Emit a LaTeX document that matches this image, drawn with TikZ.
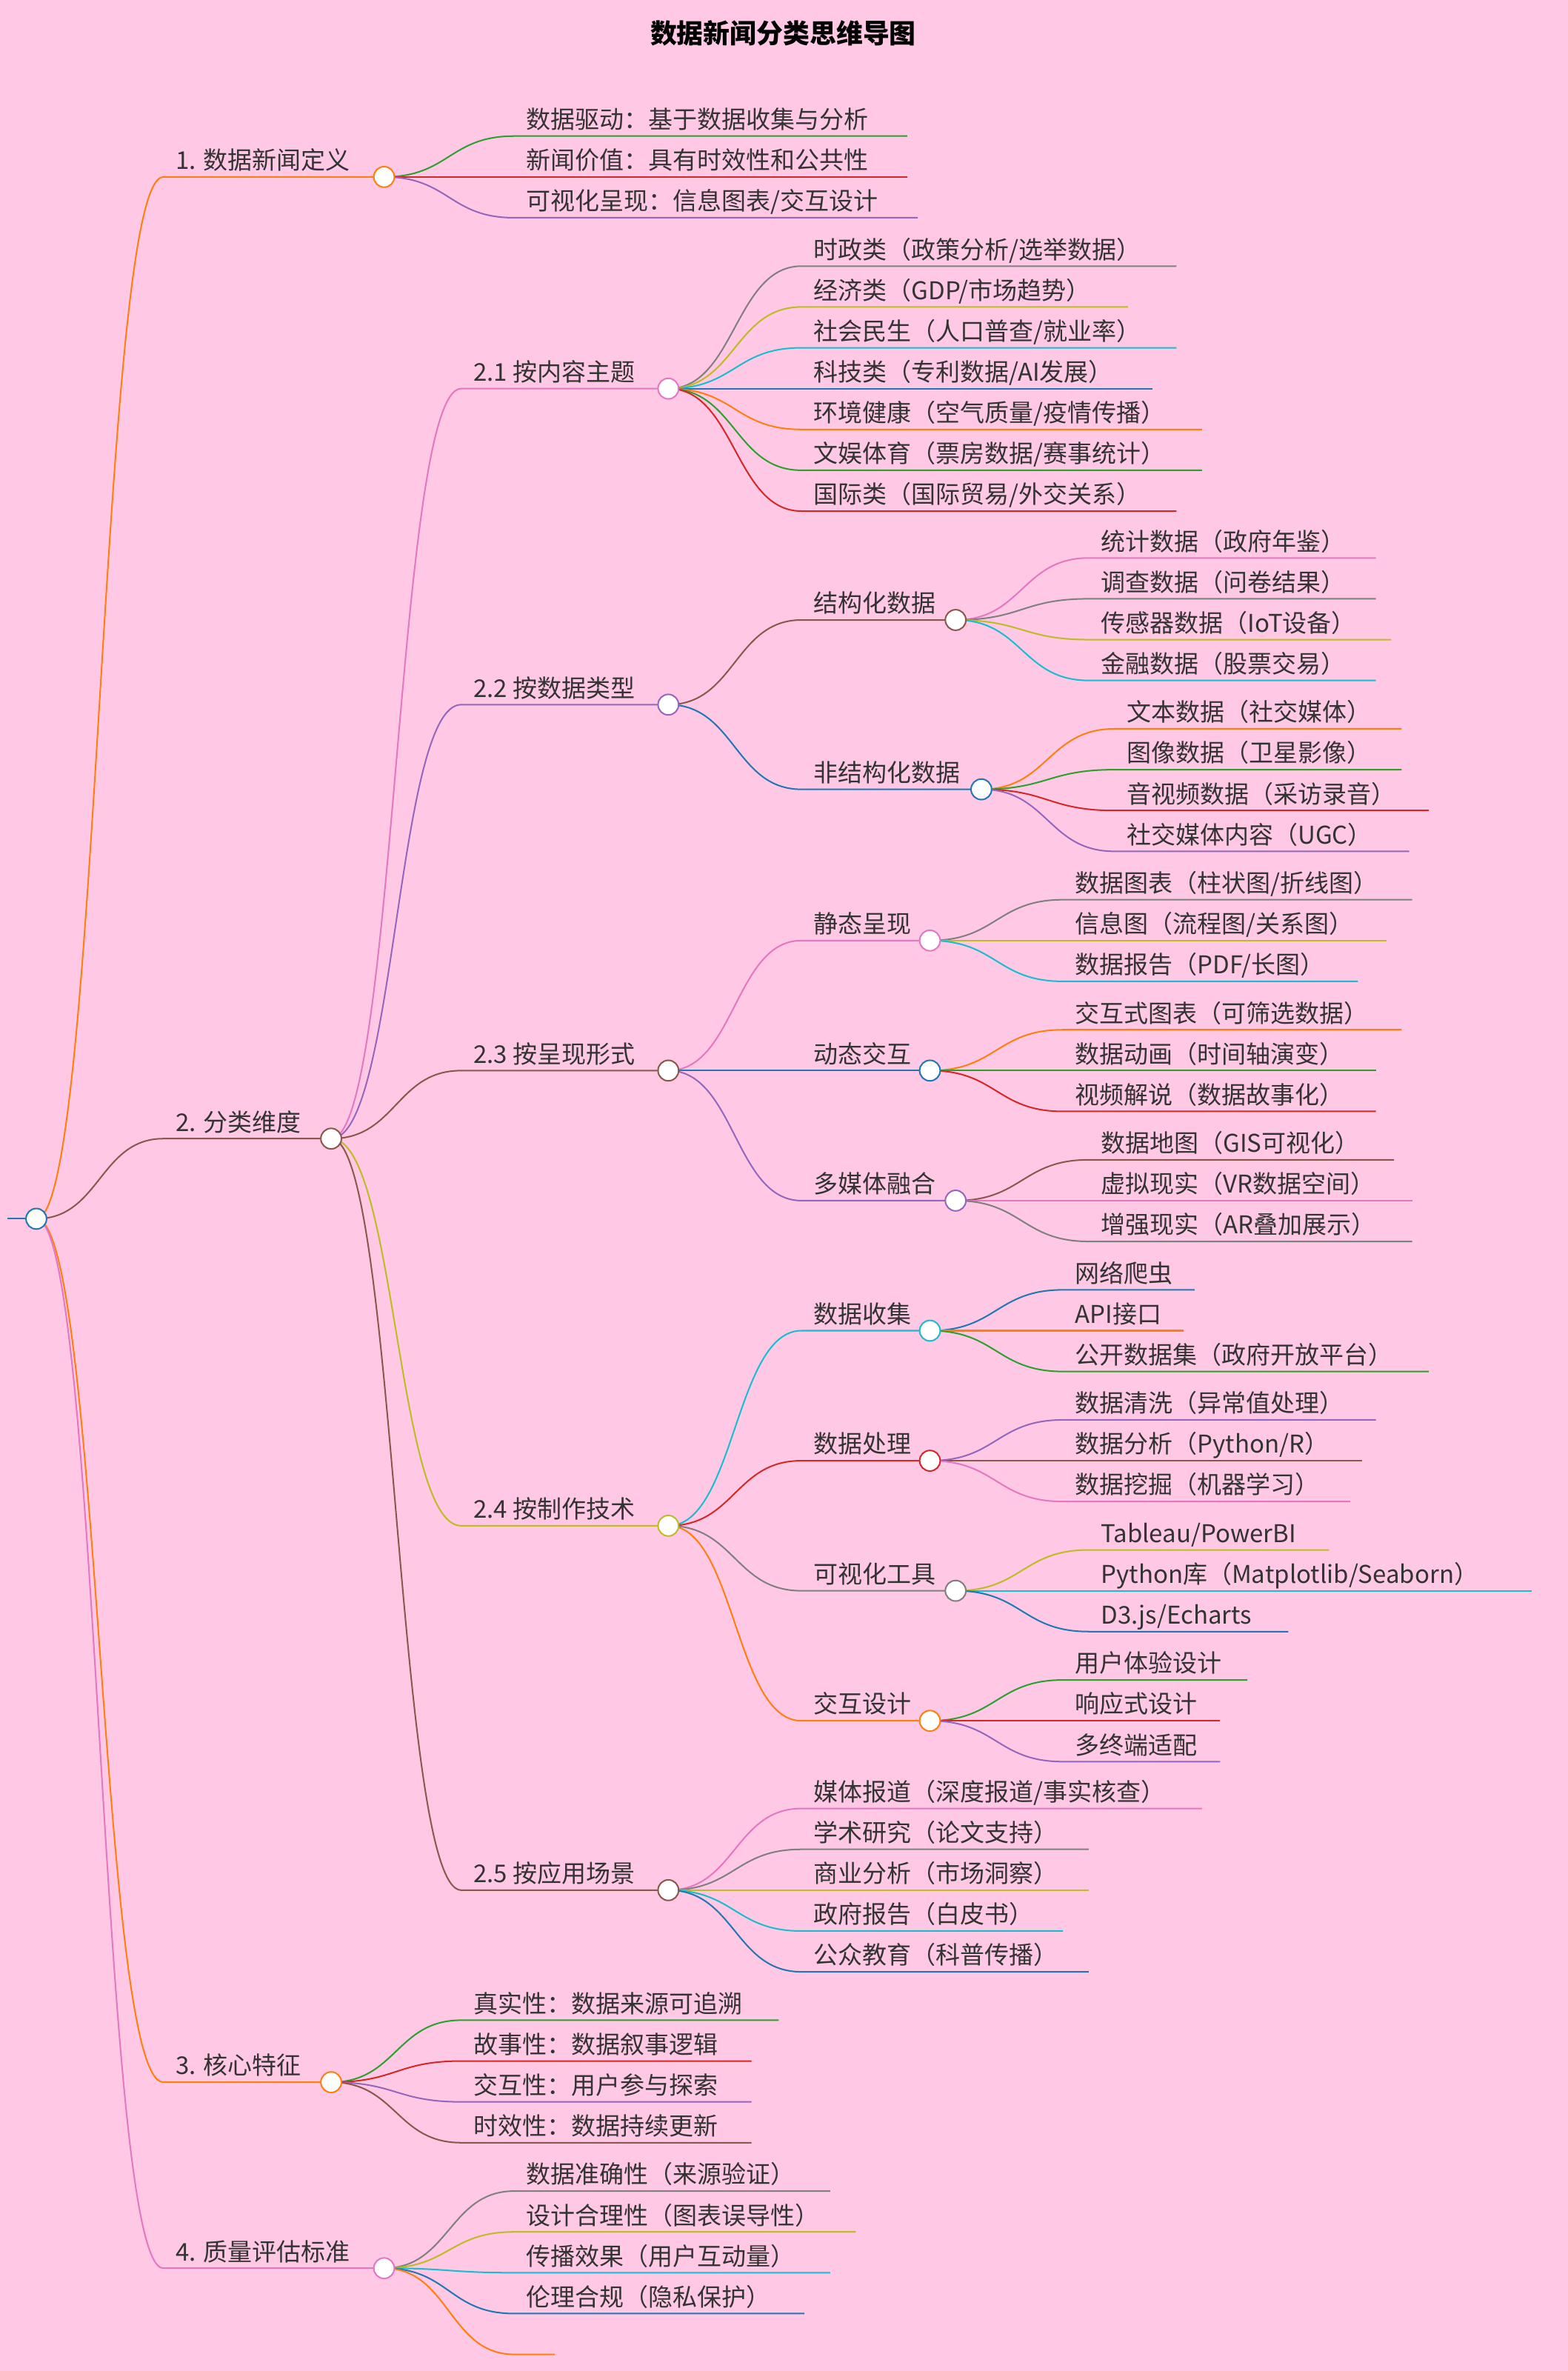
\documentclass[tikz,border=0pt]{standalone}
\usepackage{fontspec}
\setmainfont{Noto Sans CJK SC}
\definecolor{bg}{HTML}{FFC8E4}
\definecolor{txt}{HTML}{333333}
\definecolor{cblue}{HTML}{1F77B4}
\definecolor{corange}{HTML}{FF7F0E}
\definecolor{cgreen}{HTML}{2CA02C}
\definecolor{cred}{HTML}{D62728}
\definecolor{cpurple}{HTML}{9467BD}
\definecolor{cbrown}{HTML}{8C564B}
\definecolor{cpink}{HTML}{E377C2}
\definecolor{cgray}{HTML}{7F7F7F}
\definecolor{colive}{HTML}{BCBD22}
\definecolor{ccyan}{HTML}{17BECF}
\newcommand\mm[8]{%
 \draw[#6,line width=1.4pt] (#1,#2) .. controls ({(#1+#3)/2},#2) and ({(#1+#3)/2},#4) .. (#3,#4) -- (#5,#4);
 \node[anchor=base west,text=txt,inner sep=0] (#8) at ({#3+8},{#4-5}) {#7};}
\newcommand\mmc[4]{\node[circle,draw=#3,fill=white,line width=1.4pt,inner sep=0,minimum size=0.68cm] (#4) at (#1,#2) {};}
\begin{document}
\begin{tikzpicture}[x=0.05cm,y=-0.05cm,font=\fontsize{23}{27}\selectfont]
\fill[bg] (0,0) rectangle (1037,1568);
\useasboundingbox (0,0) rectangle (1037,1568);
\node[font=\fontsize{25}{30}\selectfont\bfseries,text=black] (title) at (518,22) {数据新闻分类思维导图};
\draw[cblue,line width=1.4pt] (5,806) -- (24,806);
% level 1
\mm{24}{806}{108}{117}{254}{corange}{1. 数据新闻定义}{n1}
\mm{24}{806}{108}{753}{219}{cbrown}{2. 分类维度}{n2}
\mm{24}{806}{108}{1377}{219}{corange}{3. 核心特征}{n3}
\mm{24}{806}{108}{1500}{254}{cpink}{4. 质量评估标准}{n4}
% 1
\mm{254}{117}{340}{90}{600}{cgreen}{数据驱动：基于数据收集与分析}{n11}
\mm{254}{117}{340}{117}{600}{cred}{新闻价值：具有时效性和公共性}{n12}
\mm{254}{117}{340}{144}{607}{cpurple}{可视化呈现：信息图表/交互设计}{n13}
\mmc{254}{117}{corange}{c1}
% 2
\mm{219}{753}{305}{257}{442}{cpink}{2.1 按内容主题}{n21}
\mm{219}{753}{305}{466}{442}{cpurple}{2.2 按数据类型}{n22}
\mm{219}{753}{305}{708}{442}{cbrown}{2.3 按呈现形式}{n23}
\mm{219}{753}{305}{1009}{442}{colive}{2.4 按制作技术}{n24}
\mm{219}{753}{305}{1250}{442}{cbrown}{2.5 按应用场景}{n25}
\mmc{219}{753}{cbrown}{c2}
% 2.1
\mm{442}{257}{530}{176}{778}{cgray}{时政类（政策分析/选举数据）}{a1}
\mm{442}{257}{530}{203}{746}{colive}{经济类（GDP/市场趋势）}{a2}
\mm{442}{257}{530}{230}{778}{ccyan}{社会民生（人口普查/就业率）}{a3}
\mm{442}{257}{530}{257}{762}{cblue}{科技类（专利数据/AI发展）}{a4}
\mm{442}{257}{530}{284}{795}{corange}{环境健康（空气质量/疫情传播）}{a5}
\mm{442}{257}{530}{311}{795}{cgreen}{文娱体育（票房数据/赛事统计）}{a6}
\mm{442}{257}{530}{338}{778}{cred}{国际类（国际贸易/外交关系）}{a7}
\mmc{442}{257}{cpink}{c21}
% 2.2
\mm{442}{466}{530}{410}{632}{cbrown}{结构化数据}{b1}
\mm{442}{466}{530}{522}{649}{cblue}{非结构化数据}{b2}
\mmc{442}{466}{cpurple}{c22}
\mm{632}{410}{720}{369}{910}{cpink}{统计数据（政府年鉴）}{b11}
\mm{632}{410}{720}{396}{910}{cgray}{调查数据（问卷结果）}{b12}
\mm{632}{410}{720}{423}{920}{colive}{传感器数据（IoT设备）}{b13}
\mm{632}{410}{720}{450}{910}{ccyan}{金融数据（股票交易）}{b14}
\mmc{632}{410}{cbrown}{cb1}
\mm{649}{522}{737}{482}{927}{corange}{文本数据（社交媒体）}{b21}
\mm{649}{522}{737}{509}{927}{cgreen}{图像数据（卫星影像）}{b22}
\mm{649}{522}{737}{536}{945}{cred}{音视频数据（采访录音）}{b23}
\mm{649}{522}{737}{563}{932}{cpurple}{社交媒体内容（UGC）}{b24}
\mmc{649}{522}{cblue}{cb2}
% 2.3
\mm{442}{708}{530}{622}{615}{cpink}{静态呈现}{d1}
\mm{442}{708}{530}{708}{615}{cblue}{动态交互}{d2}
\mm{442}{708}{530}{794}{632}{cpurple}{多媒体融合}{d3}
\mmc{442}{708}{cbrown}{c23}
\mm{615}{622}{703}{595}{934}{cgray}{数据图表（柱状图/折线图）}{d11}
\mm{615}{622}{703}{622}{917}{colive}{信息图（流程图/关系图）}{d12}
\mm{615}{622}{703}{649}{898}{ccyan}{数据报告（PDF/长图）}{d13}
\mmc{615}{622}{cpink}{cd1}
\mm{615}{708}{703}{681}{927}{corange}{交互式图表（可筛选数据）}{d21}
\mm{615}{708}{703}{708}{910}{cgreen}{数据动画（时间轴演变）}{d22}
\mm{615}{708}{703}{735}{910}{cred}{视频解说（数据故事化）}{d23}
\mmc{615}{708}{cblue}{cd2}
\mm{632}{794}{720}{767}{922}{cbrown}{数据地图（GIS可视化）}{d31}
\mm{632}{794}{720}{794}{934}{cpink}{虚拟现实（VR数据空间）}{d32}
\mm{632}{794}{720}{821}{934}{cgray}{增强现实（AR叠加展示）}{d33}
\mmc{632}{794}{cpurple}{cd3}
% 2.4
\mm{442}{1009}{530}{880}{615}{ccyan}{数据收集}{e1}
\mm{442}{1009}{530}{966}{615}{cred}{数据处理}{e2}
\mm{442}{1009}{530}{1052}{632}{cgray}{可视化工具}{e3}
\mm{442}{1009}{530}{1138}{615}{corange}{交互设计}{e4}
\mmc{442}{1009}{colive}{c24}
\mm{615}{880}{703}{853}{790}{cblue}{网络爬虫}{e11}
\mm{615}{880}{703}{880}{783}{corange}{API接口}{e12}
\mm{615}{880}{703}{907}{945}{cgreen}{公开数据集（政府开放平台）}{e13}
\mmc{615}{880}{ccyan}{ce1}
\mm{615}{966}{703}{939}{910}{cpurple}{数据清洗（异常值处理）}{e21}
\mm{615}{966}{703}{966}{901}{cbrown}{数据分析（Python/R）}{e22}
\mm{615}{966}{703}{993}{893}{cpink}{数据挖掘（机器学习）}{e23}
\mmc{615}{966}{cred}{ce2}
\mm{632}{1052}{720}{1025}{879}{colive}{Tableau/PowerBI}{e31}
\mm{632}{1052}{720}{1052}{1013}{ccyan}{Python库（Matplotlib/Seaborn）}{e32}
\mm{632}{1052}{720}{1079}{852}{cblue}{D3.js/Echarts}{e33}
\mmc{632}{1052}{cgray}{ce3}
\mm{615}{1138}{703}{1111}{825}{cgreen}{用户体验设计}{e41}
\mm{615}{1138}{703}{1138}{807}{cred}{响应式设计}{e42}
\mm{615}{1138}{703}{1165}{807}{cpurple}{多终端适配}{e43}
\mmc{615}{1138}{corange}{ce4}
% 2.5
\mm{442}{1250}{530}{1196}{795}{cpink}{媒体报道（深度报道/事实核查）}{f1}
\mm{442}{1250}{530}{1223}{720}{cgray}{学术研究（论文支持）}{f2}
\mm{442}{1250}{530}{1250}{720}{colive}{商业分析（市场洞察）}{f3}
\mm{442}{1250}{530}{1277}{703}{ccyan}{政府报告（白皮书）}{f4}
\mm{442}{1250}{530}{1304}{720}{cblue}{公众教育（科普传播）}{f5}
\mmc{442}{1250}{cbrown}{c25}
% 3
\mm{219}{1377}{305}{1336}{515}{cgreen}{真实性：数据来源可追溯}{g1}
\mm{219}{1377}{305}{1363}{497}{cred}{故事性：数据叙事逻辑}{g2}
\mm{219}{1377}{305}{1390}{497}{cpurple}{交互性：用户参与探索}{g3}
\mm{219}{1377}{305}{1417}{497}{cbrown}{时效性：数据持续更新}{g4}
\mmc{219}{1377}{corange}{c3}
% 4
\mm{254}{1500}{340}{1449}{549}{cgray}{数据准确性（来源验证）}{h1}
\mm{254}{1500}{340}{1476}{566}{colive}{设计合理性（图表误导性）}{h2}
\mm{254}{1500}{340}{1503}{549}{ccyan}{传播效果（用户互动量）}{h3}
\mm{254}{1500}{340}{1530}{532}{cblue}{伦理合规（隐私保护）}{h4}
\mm{254}{1500}{340}{1557}{367}{corange}{}{h5}
\mmc{254}{1500}{cpink}{c4}
\mmc{24}{806}{cblue}{root}
\end{tikzpicture}
\end{document}
